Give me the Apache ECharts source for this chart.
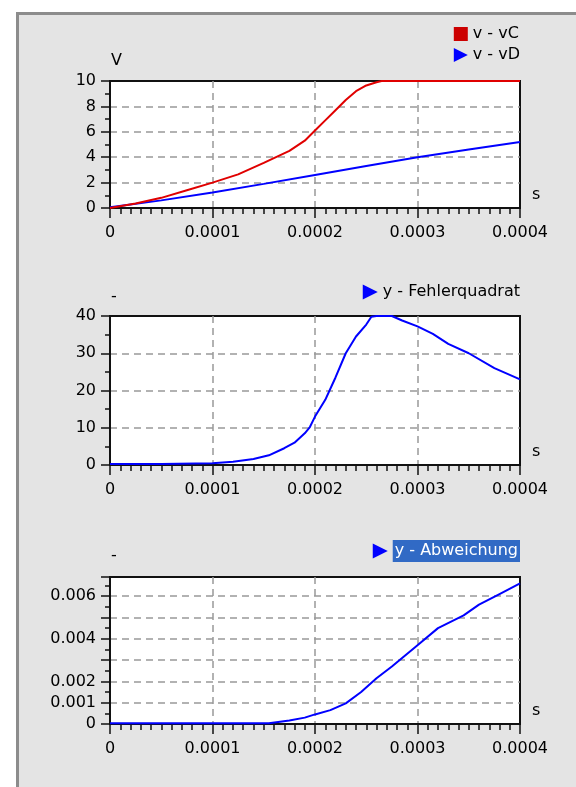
<!DOCTYPE html>
<html>
<head>
<meta charset="utf-8">
<script src="https://cdn.jsdelivr.net/npm/echarts@6/dist/echarts.min.js"></script>
<style>
html,body{margin:0;padding:0;background:#fff;}
#frame{position:absolute;left:16px;top:12px;width:560px;height:775px;background:#e4e4e4;border-left:3px solid #8c8c8c;border-top:3px solid #8c8c8c;box-sizing:border-box;}
#chart{position:absolute;left:0;top:0;width:576px;height:787px;}
</style>
</head>
<body>
<div id="frame"></div>
<div id="chart"></div>
<script>
// ---- data (time in units of 1e-4 s) ----
const xTickLabels = ['0', '0.0001', '0.0002', '0.0003', '0.0004'];

const tVC = [0, 0.25, 0.5, 0.75, 1, 1.25, 1.5, 1.75, 1.9, 2, 2.1, 2.2, 2.3, 2.4, 2.5, 2.6, 2.65, 2.7, 3, 3.5, 4];
const vC  = [0, 0.35, 0.8, 1.4, 2.0, 2.65, 3.55, 4.5, 5.3, 6.1, 6.9, 7.7, 8.5, 9.2, 9.65, 9.9, 10, 10, 10, 10, 10];

const tVD = [0, 0.5, 1, 1.5, 2, 2.5, 3, 3.5, 4];
const vD  = [0.05, 0.6, 1.22, 1.9, 2.6, 3.3, 4.0, 4.6, 5.2];

const tFQ = [0, 0.5, 1, 1.2, 1.4, 1.55, 1.7, 1.8, 1.9, 1.95, 2, 2.1, 2.2, 2.3, 2.4, 2.5, 2.55, 2.6, 2.75, 2.85, 3, 3.15, 3.3, 3.5, 3.75, 4];
const fehlerquadrat = [0.3, 0.3, 0.5, 0.9, 1.6, 2.6, 4.5, 6.0, 8.5, 10.2, 13.0, 17.5, 23.5, 30, 34.5, 37.7, 39.8, 40, 40, 38.8, 37.2, 35.2, 32.5, 30, 26, 23];

const tAB = [0, 1, 1.55, 1.75, 1.9, 2, 2.15, 2.3, 2.45, 2.6, 2.75, 2.9, 3, 3.2, 3.45, 3.6, 3.8, 4];
const abweichung = [0.03, 0.03, 0.03, 0.16, 0.3, 0.45, 0.65, 0.97, 1.5, 2.15, 2.7, 3.3, 3.7, 4.5, 5.1, 5.6, 6.1, 6.6]; // x 1e-3

const yLabels1 = ['0', '2', '4', '6', '8', '10'];
const yLabels2 = ['0', '10', '20', '30', '40'];
const yLabels3 = ['0', '0.001', '0.002', '', '0.004', '', '0.006'];

// ---- build ----
const pairs = (t, y, sy) => t.map((v, i) => [v * 1e-4, y[i] * sy]);
const FONT = 'DejaVu Sans';
const txt = {color: '#000', fontFamily: FONT, fontSize: 16};
const tri = 'path://M0,0 L14,7 L0,14 Z';

function xAxis(idx) {
  return {
    type: 'value', gridIndex: idx, min: 0, max: 0.0004, interval: 0.0001,
    name: 's', nameLocation: 'end', nameGap: 12,
    nameTextStyle: Object.assign({}, txt, {verticalAlign: 'bottom', padding: [0, 0, 5, 0]}),
    axisLine: {show: true, onZero: false, lineStyle: {color: '#111', width: 2}},
    axisTick: {show: true, length: 10, lineStyle: {color: '#111', width: 1.5}},
    minorTick: {show: true, splitNumber: 10, length: 6, lineStyle: {color: '#111', width: 1.5}},
    axisLabel: Object.assign({}, txt, {margin: 17, formatter: v => {
      const k = Math.round(v / 0.0001); return xTickLabels[k] !== undefined ? xTickLabels[k] : '';
    }}),
    splitLine: {show: true, showMinLine: false, showMaxLine: false, lineStyle: {color: '#999', width: 1.5, type: [7, 5]}},
    minorSplitLine: {show: false}
  };
}
function yAxis(idx, min, max, interval, labels, name, gap) {
  return {
    type: 'value', gridIndex: idx, min: min, max: max, interval: interval,
    name: name, nameLocation: 'end', nameGap: gap,
    nameTextStyle: Object.assign({}, txt, {align: 'left', padding: [0, 0, 0, 1]}),
    axisLine: {show: true, lineStyle: {color: '#111', width: 2}},
    axisTick: {show: true, length: 9, lineStyle: {color: '#111', width: 1.5}},
    minorTick: {show: true, splitNumber: 2, length: 5, lineStyle: {color: '#111', width: 1.5}},
    axisLabel: Object.assign({}, txt, {margin: 14, formatter: v => {
      const k = Math.round(v / interval);
      if (Math.abs(v - k * interval) > interval * 1e-6) return '';
      return labels[k] !== undefined ? labels[k] : '';
    }}),
    splitLine: {show: true, showMinLine: false, showMaxLine: false, lineStyle: {color: '#999', width: 1.5, type: [7, 5]}}
  };
}

const chart = echarts.init(document.getElementById('chart'), null, {renderer: 'canvas'});
chart.setOption({
  animation: false,
  backgroundColor: 'transparent',
  textStyle: txt,
  grid: [
    {left: 110, width: 410, top: 81, height: 127, show: true, backgroundColor: '#fff', borderColor: '#111', borderWidth: 2},
    {left: 110, width: 410, top: 316, height: 149, show: true, backgroundColor: '#fff', borderColor: '#111', borderWidth: 2},
    {left: 110, width: 410, top: 577, height: 147, show: true, backgroundColor: '#fff', borderColor: '#111', borderWidth: 2}
  ],
  xAxis: [xAxis(0), xAxis(1), xAxis(2)],
  yAxis: [
    yAxis(0, 0, 10, 2, yLabels1, 'V', 12),
    yAxis(1, 0, 40, 10, yLabels2, '-', 11),
    yAxis(2, 0, 0.0069, 0.001, yLabels3, '-', 13)
  ],
  legend: [
    {orient: 'vertical', right: 56, top: 26, padding: 0, itemGap: 5, itemWidth: 14, itemHeight: 14,
     textStyle: txt, selectedMode: false,
     data: [{name: 'v - vC', icon: 'rect', itemStyle: {color: '#cc0000'}}, {name: 'v - vD', icon: tri, itemStyle: {color: '#0000ff'}}]},
    {orient: 'vertical', right: 56, top: 284, padding: 0, itemWidth: 15, itemHeight: 15,
     textStyle: txt, selectedMode: false,
     data: [{name: 'y - Fehlerquadrat', icon: tri, itemStyle: {color: '#0000ff'}}]},
    {orient: 'vertical', right: 56, top: 540, padding: 0, itemWidth: 15, itemHeight: 15,
     textStyle: Object.assign({}, txt, {color: '#fff', backgroundColor: '#316ac5', padding: [3, 2, 3, 2]}), selectedMode: false,
     data: [{name: 'y - Abweichung', icon: tri, itemStyle: {color: '#0000ff'}}]}
  ],
  series: [
    {name: 'v - vC', type: 'line', xAxisIndex: 0, yAxisIndex: 0, showSymbol: false, z: 3,
     lineStyle: {color: '#e00000', width: 2}, itemStyle: {color: '#e00000'}, data: pairs(tVC, vC, 1)},
    {name: 'v - vD', type: 'line', xAxisIndex: 0, yAxisIndex: 0, showSymbol: false, z: 2,
     lineStyle: {color: '#0000ff', width: 2}, itemStyle: {color: '#0000ff'}, data: pairs(tVD, vD, 1)},
    {name: 'y - Fehlerquadrat', type: 'line', xAxisIndex: 1, yAxisIndex: 1, showSymbol: false,
     lineStyle: {color: '#0000ff', width: 2}, itemStyle: {color: '#0000ff'}, data: pairs(tFQ, fehlerquadrat, 1)},
    {name: 'y - Abweichung', type: 'line', xAxisIndex: 2, yAxisIndex: 2, showSymbol: false,
     lineStyle: {color: '#0000ff', width: 2}, itemStyle: {color: '#0000ff'}, data: pairs(tAB, abweichung, 0.001)}
  ]
});
</script>
</body>
</html>
